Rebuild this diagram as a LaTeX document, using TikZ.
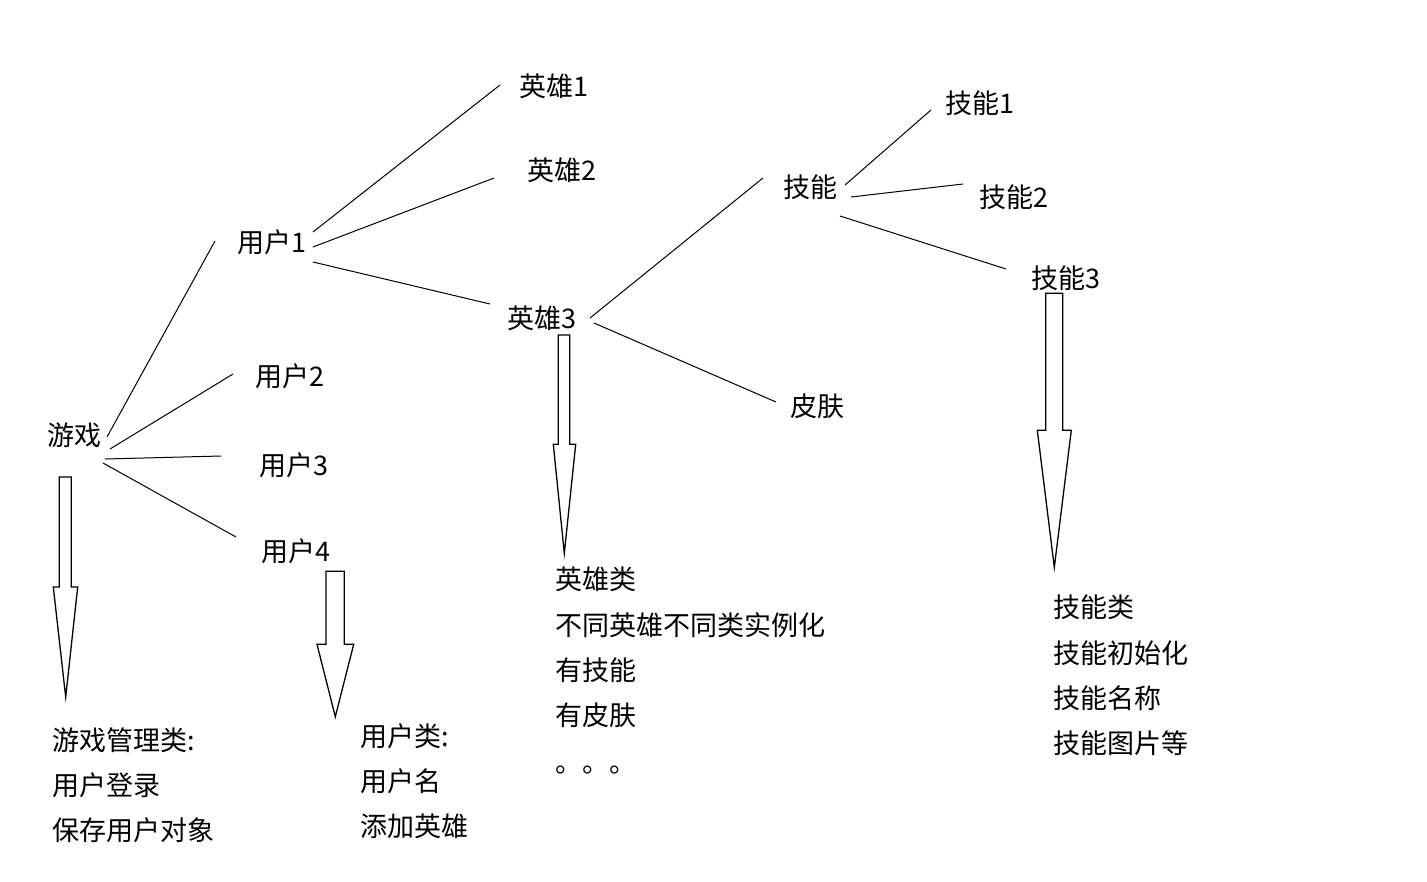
\documentclass[tikz,border=0pt]{standalone}
\usepackage{fontspec}
\setmainfont{Noto Sans CJK SC}
\begin{document}
\begin{tikzpicture}[x=1pt,y=-1pt,
  lbl/.style={anchor=base west, inner sep=0pt, font=\fontsize{27}{32}\selectfont},
  link/.style={line width=1pt},
  bigarrow/.style={line width=1.3pt, line join=miter}]
\useasboundingbox[fill=white] (0,0) rectangle (1427,881);

% tree labels (x = left edge, y = baseline)
\node[lbl] (game)  at (47,445)   {游戏};
\node[lbl] (u1)    at (237,252)  {用户1};
\node[lbl] (u2)    at (255,386)  {用户2};
\node[lbl] (u3)    at (259,475)  {用户3};
\node[lbl] (u4)    at (261,561)  {用户4};
\node[lbl] (h1)    at (519,96)   {英雄1};
\node[lbl] (h2)    at (527,180)  {英雄2};
\node[lbl] (h3)    at (507,328)  {英雄3};
\node[lbl] (sk)    at (783,197)  {技能};
\node[lbl] (skin)  at (790,416)  {皮肤};
\node[lbl] (s1)    at (945,113)  {技能1};
\node[lbl] (s2)    at (979,207)  {技能2};
\node[lbl] (s3)    at (1031,288) {技能3};

% connector end points
\coordinate (g-a) at (107,437); \coordinate (u1-a) at (215,241);
\coordinate (g-b) at (110,449); \coordinate (u2-a) at (233,374);
\coordinate (g-c) at (105,459); \coordinate (u3-a) at (221,456);
\coordinate (g-d) at (103,463); \coordinate (u4-a) at (236,537);
\coordinate (u1-b) at (313,232); \coordinate (h1-a) at (500,85);
\coordinate (u1-c) at (313,247); \coordinate (h2-a) at (494,178);
\coordinate (u1-d) at (313,262); \coordinate (h3-a) at (490,304);
\coordinate (h3-b) at (590,318); \coordinate (sk-a) at (763,178);
\coordinate (h3-c) at (594,323); \coordinate (skin-a) at (776,402);
\coordinate (sk-b) at (845,185); \coordinate (s1-a) at (931,110);
\coordinate (sk-c) at (851,197); \coordinate (s2-a) at (963,184);
\coordinate (sk-d) at (840,216); \coordinate (s3-a) at (1006,269);

\draw[link] (g-a) -- (u1-a);
\draw[link] (g-b) -- (u2-a);
\draw[link] (g-c) -- (u3-a);
\draw[link] (g-d) -- (u4-a);
\draw[link] (u1-b) -- (h1-a);
\draw[link] (u1-c) -- (h2-a);
\draw[link] (u1-d) -- (h3-a);
\draw[link] (h3-b) -- (sk-a);
\draw[link] (h3-c) -- (skin-a);
\draw[link] (sk-b) -- (s1-a);
\draw[link] (sk-c) -- (s2-a);
\draw[link] (sk-d) -- (s3-a);

% block arrows
\draw[bigarrow] (59.3,477) -- (71.3,477) -- (71.3,587) -- (77.7,587) -- (65.7,697) -- (53.3,587) -- (59.3,587) -- cycle;
\draw[bigarrow] (326,571.3) -- (344.3,571.3) -- (344.3,644.3) -- (353.7,644.3) -- (335.3,716.7) -- (317,644.3) -- (326,644.3) -- cycle;
\draw[bigarrow] (558.3,335) -- (569.7,335) -- (569.7,444.3) -- (575.7,444.3) -- (564.3,553.3) -- (553.3,444.3) -- (558.3,444.3) -- cycle;
\draw[bigarrow] (1045.7,293.3) -- (1062.7,293.3) -- (1062.7,430.3) -- (1071.3,430.3) -- (1054.3,567.3) -- (1037.3,430.3) -- (1045.7,430.3) -- cycle;

% description blocks
\node[lbl] (gm1) at (52,750) {游戏管理类:};
\node[lbl] (gm2) at (52,795) {用户登录};
\node[lbl] (gm3) at (52,840) {保存用户对象};

\node[lbl] (uc1) at (360,746) {用户类:};
\node[lbl] (uc2) at (360,791) {用户名};
\node[lbl] (uc3) at (360,836) {添加英雄};

\node[lbl] (hc1) at (555,589) {英雄类};
\node[lbl] (hc2) at (555,635) {不同英雄不同类实例化};
\node[lbl] (hc3) at (555,680) {有技能};
\node[lbl] (hc4) at (555,725) {有皮肤};
\node[lbl] (hc5) at (555,772) {。。。};

\node[lbl] (sc1) at (1053,617) {技能类};
\node[lbl] (sc2) at (1053,663) {技能初始化};
\node[lbl] (sc3) at (1053,708) {技能名称};
\node[lbl] (sc4) at (1053,753) {技能图片等};
\end{tikzpicture}
\end{document}
